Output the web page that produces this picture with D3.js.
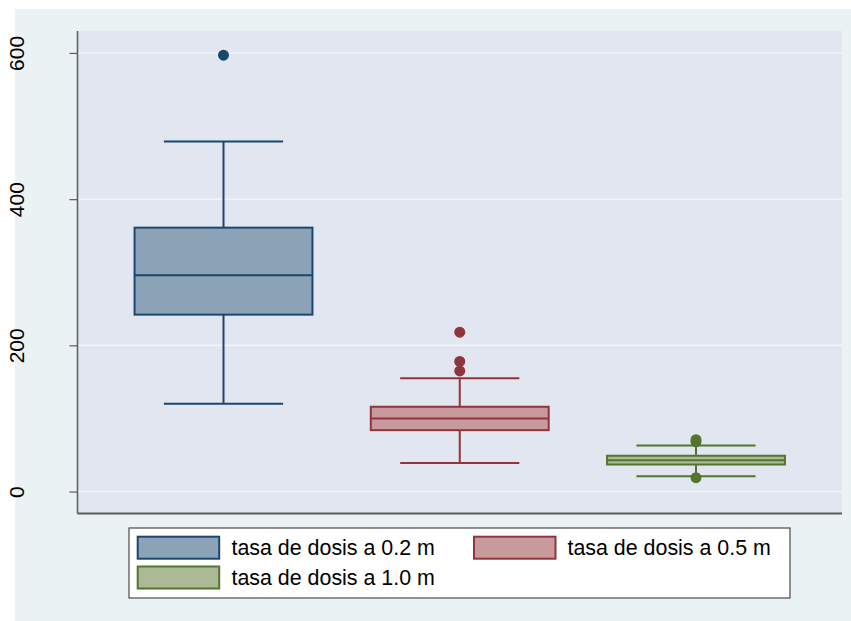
<!DOCTYPE html>
<html>
<head>
<meta charset="utf-8">
<script src="https://cdn.jsdelivr.net/npm/d3@7"></script>
<style>
  html, body { margin: 0; padding: 0; background: #ffffff; }
  svg { display: block; }
  text { font-family: "Liberation Sans", Arial, sans-serif; }
</style>
</head>
<body>
<svg id="chart" width="851" height="621"></svg>
<script>
// Dose-rate distributions at three distances
const categories = ["tasa de dosis a 0.2 m", "tasa de dosis a 0.5 m", "tasa de dosis a 1.0 m"];
const lowerWhisker = [120, 39, 21];
const q1 = [242, 84, 37];
const median = [296, 100, 43];
const q3 = [361, 116, 49];
const upperWhisker = [479, 155, 63];
const outliers = [[597], [218, 178, 165], [71, 68, 19]];
const yTicks = [0, 200, 400, 600];

const strokeColors = ["#1a476f", "#90353b", "#55752f"];
const fillColors = ["#8ca3b7", "#c89a9d", "#aaba97"];

const svg = d3.select("#chart");

// Outer graph region
svg.append("rect")
  .attr("x", 15).attr("y", 9).attr("width", 836).attr("height", 612)
  .attr("fill", "#eaf2f3");

const plot = { left: 77.5, right: 842, top: 31, bottom: 513.5 };

svg.append("rect")
  .attr("x", plot.left).attr("y", plot.top)
  .attr("width", plot.right - plot.left).attr("height", plot.bottom - plot.top)
  .attr("fill", "#e1e6f0");

const y = d3.scaleLinear().domain([-30, 630]).range([plot.bottom, plot.top]);
const x = d3.scalePoint().domain(categories).range([plot.left, plot.right]).padding(0.618);
const boxWidth = x.step() * 0.753;
const capWidth = boxWidth * 0.67;

// Horizontal grid lines
svg.append("g").selectAll("line")
  .data(yTicks)
  .join("line")
  .attr("x1", plot.left).attr("x2", plot.right)
  .attr("y1", d => y(d)).attr("y2", d => y(d))
  .attr("stroke", "#f1f4f8").attr("stroke-width", 1.5);

// Y axis with rotated labels
const yAxis = d3.axisLeft(y).tickValues(yTicks).tickSize(8).tickPadding(0).tickFormat(d3.format("d"));
const gy = svg.append("g").attr("transform", `translate(${plot.left},0)`).call(yAxis);
gy.select(".domain").attr("stroke", "#5c5c5c").attr("stroke-width", 1.5)
  .attr("d", `M0,${plot.top}V${plot.bottom}`);
gy.selectAll(".tick line").attr("stroke", "#5c5c5c").attr("stroke-width", 1.2);
gy.selectAll(".tick text")
  .attr("x", null).attr("dy", null)
  .attr("transform", "translate(-53.5,0) rotate(-90)")
  .attr("text-anchor", "middle")
  .attr("font-size", 21)
  .attr("fill", "#000");

// X axis line (no ticks)
svg.append("line")
  .attr("x1", plot.left).attr("x2", plot.right)
  .attr("y1", plot.bottom).attr("y2", plot.bottom)
  .attr("stroke", "#5c5c5c").attr("stroke-width", 2);

// Box plots
const boxes = svg.append("g").selectAll("g")
  .data(categories)
  .join("g")
  .attr("transform", d => `translate(${x(d)},0)`);

boxes.each(function(d, i) {
  const g = d3.select(this);
  const c = strokeColors[i];
  // whiskers
  g.append("line").attr("x1", 0).attr("x2", 0)
    .attr("y1", y(q3[i])).attr("y2", y(upperWhisker[i]))
    .attr("stroke", c).attr("stroke-width", 2);
  g.append("line").attr("x1", 0).attr("x2", 0)
    .attr("y1", y(q1[i])).attr("y2", y(lowerWhisker[i]))
    .attr("stroke", c).attr("stroke-width", 2);
  // caps
  [upperWhisker[i], lowerWhisker[i]].forEach(v => {
    g.append("line").attr("x1", -capWidth / 2).attr("x2", capWidth / 2)
      .attr("y1", y(v)).attr("y2", y(v))
      .attr("stroke", c).attr("stroke-width", 2);
  });
  // box
  g.append("rect")
    .attr("x", -boxWidth / 2).attr("width", boxWidth)
    .attr("y", y(q3[i])).attr("height", y(q1[i]) - y(q3[i]))
    .attr("fill", fillColors[i]).attr("stroke", c).attr("stroke-width", 2);
  // median
  g.append("line").attr("x1", -boxWidth / 2).attr("x2", boxWidth / 2)
    .attr("y1", y(median[i])).attr("y2", y(median[i]))
    .attr("stroke", c).attr("stroke-width", 2);
  // outliers
  g.selectAll("circle.out")
    .data(outliers[i])
    .join("circle")
    .attr("class", "out")
    .attr("cx", 0).attr("cy", v => y(v)).attr("r", 5.5)
    .attr("fill", c);
});

// Legend
const legend = svg.append("g");
legend.append("rect")
  .attr("x", 129).attr("y", 528).attr("width", 661).attr("height", 70)
  .attr("fill", "#ffffff").attr("stroke", "#4a4a4a").attr("stroke-width", 1.2);

const legendPos = [
  { kx: 137.7, ky: 536.7, tx: 231.5 },
  { kx: 474, ky: 536.7, tx: 567.5 },
  { kx: 137.7, ky: 566.5, tx: 231.5 }
];

categories.forEach((name, i) => {
  const p = legendPos[i];
  legend.append("rect")
    .attr("x", p.kx).attr("y", p.ky).attr("width", 81.5).attr("height", 22)
    .attr("fill", fillColors[i]).attr("stroke", strokeColors[i]).attr("stroke-width", 2);
  legend.append("text")
    .attr("x", p.tx).attr("y", p.ky + 11)
    .attr("dominant-baseline", "central")
    .attr("font-size", 21.4)
    .attr("fill", "#000")
    .text(name);
});
</script>
</body>
</html>
